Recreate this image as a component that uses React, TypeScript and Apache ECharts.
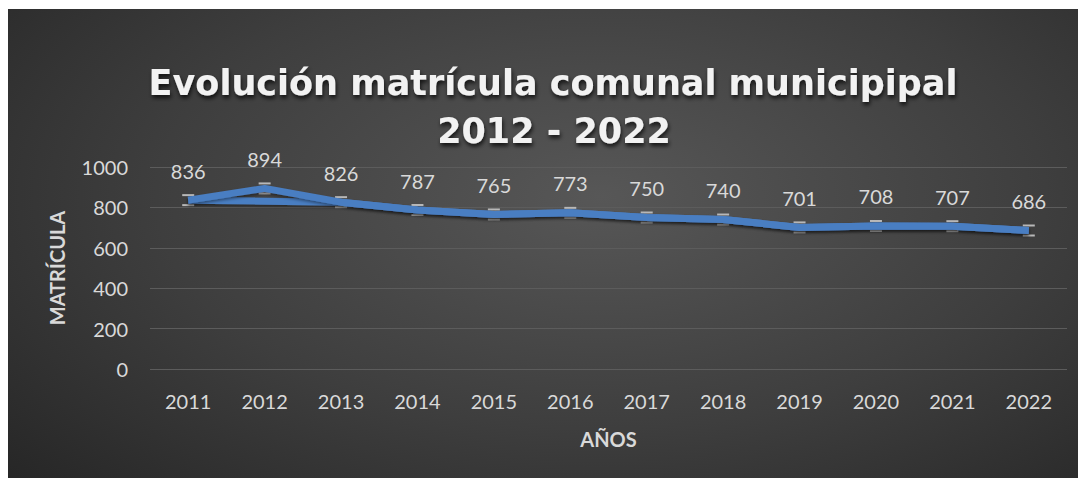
import React, { useEffect, useRef } from "react";
import * as echarts from "echarts";

const years = ["2011", "2012", "2013", "2014", "2015", "2016", "2017", "2018", "2019", "2020", "2021", "2022"];
const matricula = [836, 894, 826, 787, 765, 773, 750, 740, 701, 708, 707, 686];
const yTicks = [0, 200, 400, 600, 800, 1000];
const titleLines = ["Evolución matrícula comunal municipipal", "2012 - 2022"];

export default function App() {
  const ref = useRef<HTMLDivElement>(null);
  useEffect(() => {
    if (!ref.current) return;
    const chart = echarts.init(ref.current, null, { renderer: "svg" });
    const font = "Lato, 'Open Sans', sans-serif";
    const lineColor = "#4a7ec2";
    const skipSecond = matricula.map((v, i) => (i === 1 ? null : v));
    const titleStyle = {
      fontFamily: "'DejaVu Sans', sans-serif",
      fontWeight: "bold",
      fontSize: 35,
      fill: "#f2f2f2",
      align: "center",
      verticalAlign: "middle",
      textShadowColor: "rgba(0,0,0,0.75)",
      textShadowBlur: 4,
      textShadowOffsetX: 1,
      textShadowOffsetY: 3,
    };
    chart.setOption({
      animation: false,
      backgroundColor: "transparent",
      graphic: [
        { type: "text", x: 545, y: 74, style: { ...titleStyle, text: titleLines[0] } },
        { type: "text", x: 546, y: 122, style: { ...titleStyle, text: titleLines[1] } },
      ],
      grid: { left: 142, right: 19, top: 158, bottom: 109 },
      xAxis: {
        type: "category",
        data: years,
        boundaryGap: true,
        axisLine: { show: false },
        axisTick: { show: false },
        axisLabel: { color: "#d9d9d9", fontFamily: font, fontSize: 20, margin: 22 },
        name: "AÑOS",
        nameLocation: "middle",
        nameGap: 60,
        nameTextStyle: { color: "#d9d9d9", fontFamily: font, fontWeight: "bold", fontSize: 20 },
      },
      yAxis: {
        type: "value",
        min: yTicks[0],
        max: yTicks[yTicks.length - 1],
        interval: 200,
        axisLine: { show: false },
        axisTick: { show: false },
        axisLabel: {
          color: "#d9d9d9",
          fontFamily: font,
          fontSize: 20,
          margin: 22,
          formatter: (v: number) => String(v),
        },
        splitLine: { lineStyle: { color: "#5c5c5c", width: 1 } },
        name: "MATRÍCULA",
        nameLocation: "middle",
        nameGap: 83,
        nameTextStyle: { color: "#d9d9d9", fontFamily: font, fontWeight: "bold", fontSize: 20 },
      },
      series: [
        {
          type: "custom",
          z: 1,
          data: matricula.map((v, i) => [i, v]),
          renderItem: (params: any, api: any) => {
            const p = api.coord([api.value(0), api.value(1)]);
            const style = { fill: "#b8b8b8" };
            return {
              type: "group",
              children: [
                { type: "rect", shape: { x: p[0] - 6, y: p[1] - 6, width: 12, height: 2 }, style },
                { type: "rect", shape: { x: p[0] - 6, y: p[1] + 4, width: 12, height: 2 }, style },
              ],
            };
          },
        },
        {
          type: "line",
          z: 2,
          data: skipSecond,
          connectNulls: true,
          symbol: "none",
          lineStyle: { color: lineColor, width: 7, shadowColor: "rgba(0,0,0,0.4)", shadowBlur: 3, shadowOffsetY: 2 },
        },
        {
          type: "line",
          z: 3,
          data: matricula,
          symbol: "circle",
          symbolSize: 1,
          itemStyle: { color: "rgba(0,0,0,0)" },
          lineStyle: { color: lineColor, width: 7, shadowColor: "rgba(0,0,0,0.4)", shadowBlur: 3, shadowOffsetY: 2 },
          label: {
            show: true,
            position: "top",
            distance: 19,
            color: "#d9d9d9",
            fontFamily: font,
            fontSize: 20,
          },
        },
      ],
    });
    return () => chart.dispose();
  }, []);
  return (
    <div
      ref={ref}
      style={{
        width: 1078,
        height: 469,
        marginTop: 1,
        background: "radial-gradient(ellipse 75% 90% at 55% 40%, #575757 0%, #3e3e3e 55%, #262626 100%)",
      }}
    />
  );
}
